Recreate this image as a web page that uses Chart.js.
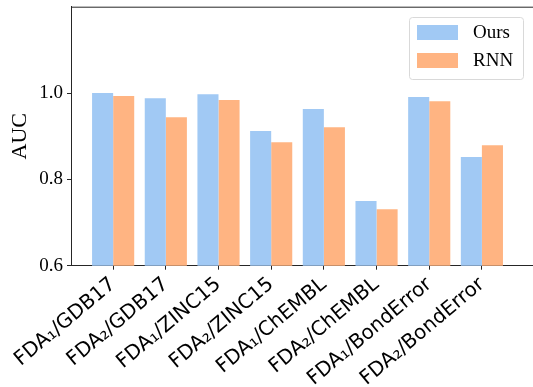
<!DOCTYPE html>
<html>
<head>
<meta charset="utf-8">
<script src="https://cdn.jsdelivr.net/npm/chart.js@4/dist/chart.umd.min.js"></script>
<style>
  html, body { margin: 0; padding: 0; background: #fff; overflow: hidden; }
  #wrap { width: 533px; height: 387px; position: relative; }
</style>
</head>
<body>
<div id="wrap"><canvas id="myChart" width="533" height="387"></canvas></div>
<script>
// Data
const categories = ['FDA₁/GDB17', 'FDA₂/GDB17', 'FDA₁/ZINC15', 'FDA₂/ZINC15',
    'FDA₁/ChEMBL', 'FDA₂/ChEMBL', 'FDA₁/BondError', 'FDA₂/BondError'];
const oursValues = [1.000, 0.988, 0.997, 0.912, 0.963, 0.750, 0.991, 0.852];
const rnnValues = [0.993, 0.944, 0.984, 0.886, 0.921, 0.731, 0.981, 0.879];
const yTicks = [0.6, 0.8, 1.0];
const seriesNames = ['Ours', 'RNN'];
const seriesColors = ['#a1c9f4', '#ffb482'];

const serif = "'Liberation Serif', 'Times New Roman', serif";
const axisColor = '#262626';

// Top spine + matplotlib-like legend box
const extras = {
    id: 'extras',
    afterDraw(chart) {
        const ctx = chart.ctx;
        const area = chart.chartArea;
        ctx.save();
        ctx.strokeStyle = axisColor;
        ctx.lineWidth = 1;
        ctx.beginPath();
        ctx.moveTo(area.left, area.top + 0.5);
        ctx.lineTo(area.right, area.top + 0.5);
        ctx.stroke();

        // legend
        const bx = 409.5, by = 17.5, bw = 114, bh = 62;
        ctx.fillStyle = 'rgba(255,255,255,0.8)';
        ctx.strokeStyle = '#d9d9d9';
        ctx.beginPath();
        ctx.roundRect(bx, by, bw, bh, 3);
        ctx.fill();
        ctx.stroke();
        ctx.font = '19px ' + serif;
        ctx.textBaseline = 'middle';
        ctx.textAlign = 'left';
        seriesNames.forEach((name, i) => {
            const y = 25 + i * 28;
            ctx.fillStyle = seriesColors[i];
            ctx.fillRect(417, y, 41, 15);
            ctx.fillStyle = '#000';
            ctx.fillText(name, 473, y + 8);
        });
        ctx.restore();
    }
};

const ctx = document.getElementById('myChart').getContext('2d');
new Chart(ctx, {
    type: 'bar',
    data: {
        datasets: [
            {
                label: seriesNames[0],
                data: oursValues.map((v, i) => ({ x: i, y: v })),
                backgroundColor: seriesColors[0],
                borderWidth: 0
            },
            {
                label: seriesNames[1],
                data: rnnValues.map((v, i) => ({ x: i, y: v })),
                backgroundColor: seriesColors[1],
                borderWidth: 0
            }
        ]
    },
    options: {
        responsive: false,
        animation: false,
        categoryPercentage: 0.8,
        barPercentage: 1.0,
        layout: { padding: { top: 6.7, right: 0, left: 0, bottom: 0 } },
        plugins: {
            legend: { display: false },
            tooltip: { enabled: false }
        },
        scales: {
            x: {
                type: 'linear',
                offset: false,
                min: -0.8,
                max: 7.97,
                afterBuildTicks(scale) {
                    scale.ticks = categories.map((c, i) => ({ value: i }));
                },
                afterFit(scale) {
                    scale.height = 121.3;
                    scale.paddingLeft = 0;
                    scale.paddingRight = 0;
                },
                grid: {
                    offset: false,
                    drawOnChartArea: false,
                    drawTicks: true,
                    tickLength: 4,
                    color: axisColor
                },
                border: { color: axisColor, width: 1 },
                ticks: {
                    autoSkip: false,
                    minRotation: 40,
                    maxRotation: 40,
                    padding: 3,
                    color: '#000',
                    font: { family: "'DejaVu Sans', sans-serif", size: 20 },
                    callback: (v) => categories[v]
                }
            },
            y: {
                min: 0.6,
                max: 1.2,
                afterBuildTicks(scale) {
                    scale.ticks = yTicks.map(v => ({ value: v }));
                },
                afterFit(scale) {
                    scale.width = 71;
                    scale.paddingTop = 0;
                    scale.paddingBottom = 0;
                },
                grid: {
                    drawOnChartArea: false,
                    tickLength: 4,
                    color: axisColor
                },
                border: { color: axisColor, width: 1 },
                ticks: {
                    padding: 4,
                    color: '#000',
                    font: { family: serif, size: 19 },
                    callback: (v) => v.toFixed(1)
                },
                title: {
                    display: true,
                    text: 'AUC',
                    color: '#000',
                    font: { family: serif, size: 22 },
                    padding: { top: 7, bottom: 0 }
                }
            }
        }
    },
    plugins: [extras]
});
</script>
</body>
</html>
